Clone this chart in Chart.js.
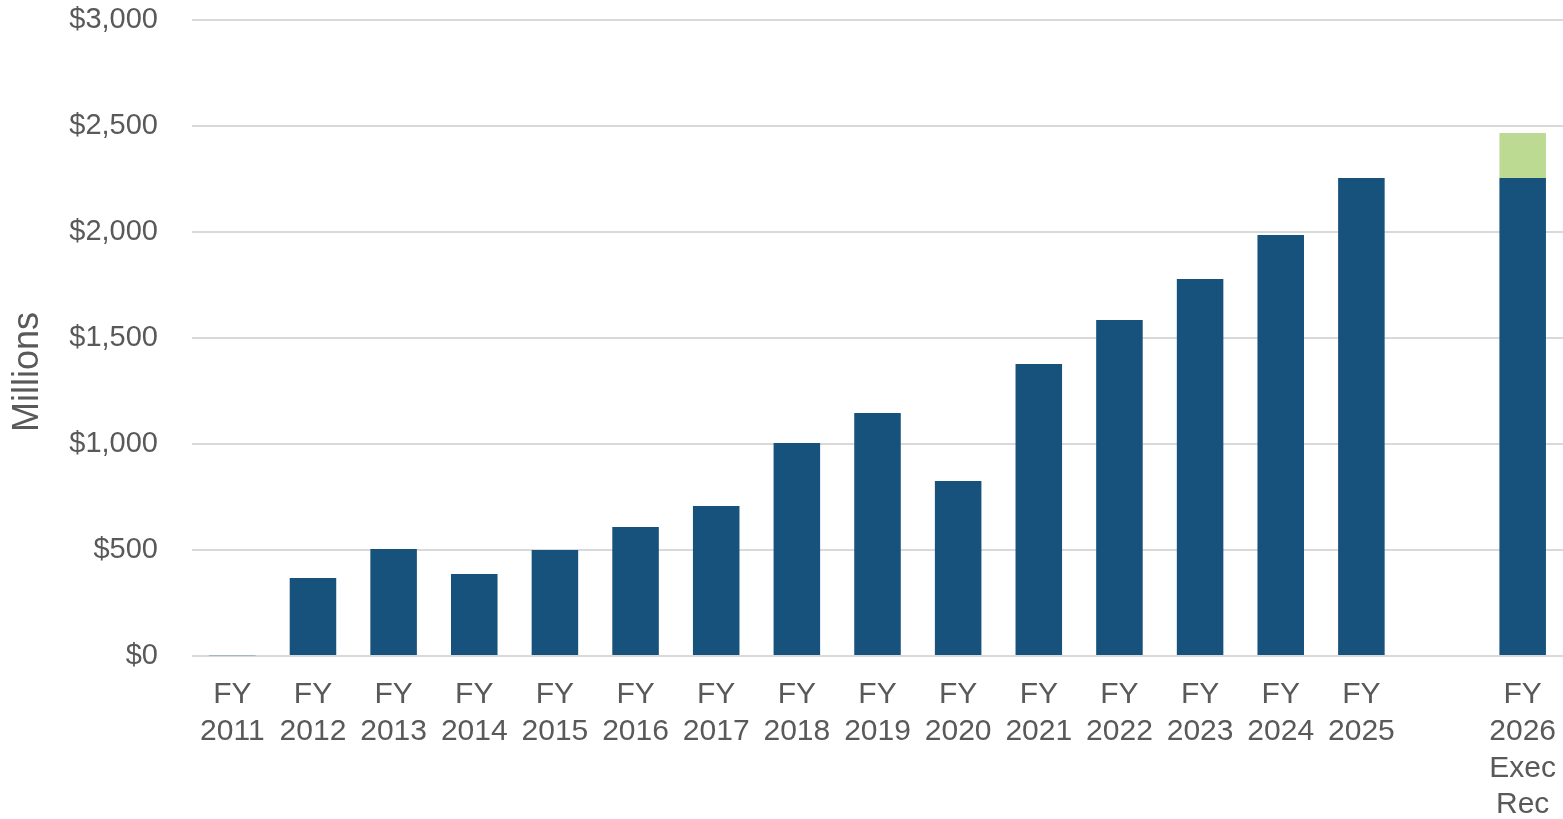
<!DOCTYPE html>
<html>
<head>
<meta charset="utf-8">
<script src="https://cdn.jsdelivr.net/npm/chart.js@4.4.1/dist/chart.umd.min.js"></script>
<style>
  html, body { margin: 0; padding: 0; background: #fff; }
  #wrap { width: 1563px; height: 819px; }
</style>
</head>
<body>
<div id="wrap"><canvas id="chart" width="1563" height="819"></canvas></div>
<script>
// Fiscal years (blank slot before the Exec Rec column)
const categories = [
    ['FY', '2011'], ['FY', '2012'], ['FY', '2013'], ['FY', '2014'], ['FY', '2015'],
    ['FY', '2016'], ['FY', '2017'], ['FY', '2018'], ['FY', '2019'], ['FY', '2020'],
    ['FY', '2021'], ['FY', '2022'], ['FY', '2023'], ['FY', '2024'], ['FY', '2025'],
    '', ['FY', '2026', 'Exec', 'Rec']
];

// Base amounts, $ millions
const baseValues = [3, 368, 505, 387, 500, 608, 708, 1005, 1146, 825, 1377, 1585, 1778, 1986, 2255, null, 2255];
// Additional amount in the executive recommendation
const increaseValues = [null, null, null, null, null, null, null, null, null, null, null, null, null, null, null, null, 212];

const yTicks = [0, 500, 1000, 1500, 2000, 2500, 3000];

const textColor = '#595959';
const fontFamily = '"Liberation Sans", Arial, sans-serif';

// y axis title, drawn a bit below the plot middle like the original
const axisTitle = {
    id: 'axisTitle',
    afterDraw(chart) {
        const ctx = chart.ctx;
        ctx.save();
        ctx.translate(28, 372);
        ctx.rotate(-Math.PI / 2);
        ctx.fillStyle = textColor;
        ctx.font = '36px ' + fontFamily;
        ctx.textAlign = 'center';
        ctx.textBaseline = 'middle';
        ctx.fillText('Millions', 0, 0);
        ctx.restore();
    }
};

new Chart(document.getElementById('chart'), {
    type: 'bar',
    data: {
        labels: categories,
        datasets: [
            {
                label: 'Base',
                data: baseValues,
                backgroundColor: '#16527c',
                borderWidth: 0,
                categoryPercentage: 1,
                barPercentage: 0.577
            },
            {
                label: 'Increase',
                data: increaseValues,
                backgroundColor: '#bdda92',
                borderWidth: 0,
                categoryPercentage: 1,
                barPercentage: 0.577
            }
        ]
    },
    plugins: [axisTitle],
    options: {
        responsive: false,
        animation: false,
        layout: { padding: { top: 20, right: 0, bottom: 0, left: 0 } },
        plugins: { legend: { display: false }, tooltip: { enabled: false } },
        scales: {
            x: {
                stacked: true,
                afterFit: axis => {
                    axis.height = 163;
                    axis.paddingLeft = 0;
                    axis.paddingRight = 0;
                },
                grid: { display: false, drawTicks: false },
                border: { display: false },
                ticks: {
                    color: textColor,
                    font: { family: fontFamily, size: 30, lineHeight: 1.23 },
                    maxRotation: 0,
                    minRotation: 0,
                    autoSkip: false,
                    padding: 20
                }
            },
            y: {
                stacked: true,
                min: 0,
                max: 3000,
                afterBuildTicks: axis => { axis.ticks = yTicks.map(v => ({ value: v })); },
                afterFit: axis => {
                    axis.width = 192;
                    axis.paddingTop = 0;
                    axis.paddingBottom = 0;
                },
                grid: { color: '#d9d9d9', lineWidth: 2, drawTicks: false },
                border: { display: false },
                ticks: {
                    color: textColor,
                    font: { family: fontFamily, size: 29 },
                    padding: 34,
                    callback: v => '$' + v.toLocaleString('en-US')
                }
            }
        }
    }
});
</script>
</body>
</html>
